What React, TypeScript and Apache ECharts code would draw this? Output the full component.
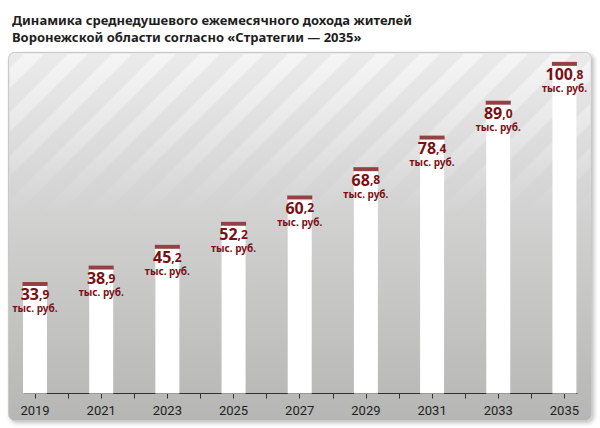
import React, { useEffect, useRef } from "react";
import * as echarts from "echarts";

const years = [2019, 2021, 2023, 2025, 2027, 2029, 2031, 2033, 2035];
const incomes = [33.9, 38.9, 45.2, 52.2, 60.2, 68.8, 78.4, 89.0, 100.8];
const tickYears = [2019, 2020, 2021, 2022, 2023, 2024, 2025, 2026, 2027, 2028, 2029, 2030, 2031, 2032, 2033, 2034, 2035];
const labelYears = [2019, 2021, 2023, 2025, 2027, 2029, 2031, 2033, 2035];
const unitLabel = "тыс. руб.";
const titleLines = [
  "Динамика среднедушевого ежемесячного дохода жителей",
  "Воронежской области согласно «Стратегии — 2035»",
];

const RED = "#7a1014";

function clipX(pts: number[][], xmin: number, xmax: number) {
  const clip = (poly: number[][], inside: (p: number[]) => boolean, edgeX: number) => {
    const out: number[][] = [];
    for (let i = 0; i < poly.length; i++) {
      const a = poly[i];
      const b = poly[(i + 1) % poly.length];
      const ia = inside(a);
      const ib = inside(b);
      if (ia) out.push(a);
      if (ia !== ib) {
        const t = (edgeX - a[0]) / (b[0] - a[0]);
        out.push([edgeX, a[1] + t * (b[1] - a[1])]);
      }
    }
    return out;
  };
  let p = clip(pts, (q) => q[0] >= xmin, xmin);
  if (p.length) p = clip(p, (q) => q[0] <= xmax, xmax);
  return p;
}

function buildStripes() {
  const top = 54;
  const bottom = 215;
  const h = bottom - top;
  const period = 44;
  const w = 20;
  const els: any[] = [];
  for (let c = -20; c < 600 + h; c += period) {
    const poly = [
      [c, top],
      [c + w, top],
      [c + w - h, bottom],
      [c - h, bottom],
    ];
    const clipped = clipX(poly, 10, 590);
    if (clipped.length < 3) continue;
    els.push({
      type: "polygon",
      z: 1,
      silent: true,
      shape: { points: clipped },
      style: {
        fill: {
          type: "linear",
          x: 0,
          y: top,
          x2: 0,
          y2: bottom,
          global: true,
          colorStops: [
            { offset: 0, color: "rgba(255,255,255,0.5)" },
            { offset: 1, color: "rgba(255,255,255,0)" },
          ],
        },
      },
    });
  }
  return els;
}

export default function App() {
  const ref = useRef<HTMLDivElement>(null);
  useEffect(() => {
    document.body.style.margin = "0";
    const chart = echarts.init(ref.current!, null, { renderer: "svg" });
    const pairs = years.map((y, i) => [y, incomes[i]]);
    chart.setOption({
      animation: false,
      backgroundColor: "#ffffff",
      title: {
        text: titleLines.join("\n"),
        left: 7,
        top: 6,
        textStyle: {
          fontFamily: "Noto Sans",
          fontWeight: "bold",
          fontSize: 13,
          lineHeight: 17,
          color: "#1e1e1e",
        },
      },
      graphic: [
        {
          type: "rect",
          z: 0,
          silent: true,
          shape: { x: 8.5, y: 52.5, width: 583, height: 368, r: 6 },
          style: {
            fill: {
              type: "linear",
              x: 0,
              y: 0,
              x2: 0,
              y2: 1,
              colorStops: [
                { offset: 0, color: "#ebebeb" },
                { offset: 0.35, color: "#d6d6d6" },
                { offset: 1, color: "#b6b6b4" },
              ],
            },
            stroke: "#c9c9c9",
            lineWidth: 1,
            shadowBlur: 4,
            shadowOffsetX: 2,
            shadowOffsetY: 2,
            shadowColor: "rgba(0,0,0,0.25)",
          },
        },
        ...buildStripes(),
      ],
      grid: { left: 24, right: 23, top: 31.6, bottom: 34.5 },
      xAxis: {
        type: "value",
        min: 2018.667,
        max: 2035.38,
        splitLine: { show: false },
        axisLine: { show: true, lineStyle: { color: "#333333", width: 1 } },
        axisTick: {
          show: true,
          length: 5,
          customValues: tickYears,
          lineStyle: { color: "#333333", width: 1 },
        },
        axisLabel: {
          customValues: labelYears,
          formatter: (v: number) => String(v),
          margin: 10,
          fontFamily: "Liberation Sans Narrow, Roboto, sans-serif",
          fontSize: 13,
          color: "#1e1e1e",
        },
      },
      yAxis: { type: "value", min: 0, max: 110, show: false },
      series: [
        {
          type: "bar",
          data: pairs,
          barWidth: 24,
          z: 2,
          itemStyle: { color: "#ffffff" },
          label: {
            show: true,
            position: "insideTop",
            distance: 4,
            formatter: (p: any) => {
              const [a, b] = (p.value[1] as number).toFixed(1).split(".");
              return `{big|${a}}{small|,${b}}\n{unit|${unitLabel}}`;
            },
            rich: {
              big: {
                fontFamily: "Noto Sans",
                fontWeight: "bold",
                fontSize: 16,
                lineHeight: 17,
                color: RED,
              },
              small: {
                fontFamily: "Noto Sans",
                fontWeight: "bold",
                fontSize: 12,
                lineHeight: 17,
                color: RED,
              },
              unit: {
                fontFamily: "Noto Sans",
                fontWeight: "bold",
                fontSize: 10,
                lineHeight: 11,
                color: RED,
              },
            },
          },
        },
        {
          type: "scatter",
          data: pairs,
          symbol: "rect",
          symbolSize: [25, 4],
          symbolOffset: [0, 2],
          z: 3,
          itemStyle: { color: RED },
        },
      ],
    });
    return () => chart.dispose();
  }, []);
  return (
    <div
      ref={ref}
      style={{ position: "fixed", left: 0, top: 0, width: 600, height: 428 }}
    />
  );
}
